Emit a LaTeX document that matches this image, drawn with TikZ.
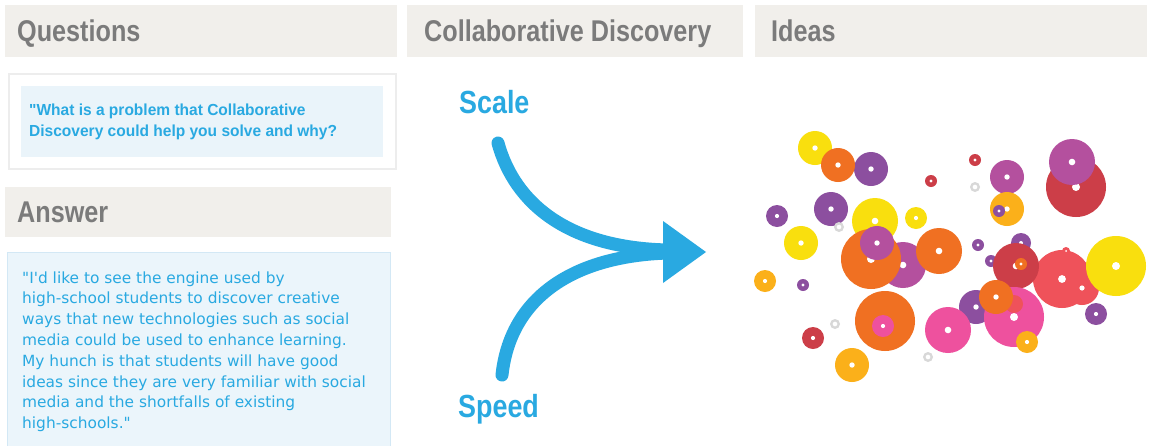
\documentclass[tikz,border=0pt]{standalone}
\usepackage{fontspec}
\setmainfont{Liberation Sans}
\newfontfamily\hdrfont[FakeStretch=0.84]{Liberation Sans}
\newfontfamily\qfont[FakeStretch=0.97]{Liberation Sans}
\newfontfamily\ansfont{DejaVu Sans}
\definecolor{hdrbg}{HTML}{F1EFEB}
\definecolor{hdrtxt}{HTML}{7B7B7B}
\definecolor{cdblue}{HTML}{29A9E1}
\definecolor{qbg}{HTML}{EAF4FA}
\definecolor{abg}{HTML}{EBF5FB}
\definecolor{aborder}{HTML}{D3E8F5}
\definecolor{cyel}{HTML}{F9DF0E}
\definecolor{cora}{HTML}{F07022}
\definecolor{cpur}{HTML}{8C4F9F}
\definecolor{cmag}{HTML}{B4509E}
\definecolor{cred}{HTML}{CC3E48}
\definecolor{ccor}{HTML}{EF525A}
\definecolor{cpink}{HTML}{EE519E}
\definecolor{coy}{HTML}{FBB01A}
\definecolor{cring}{HTML}{D8D8D8}
\newcommand\bub[4]{\fill[#4] (#1,#2) circle[radius=#3pt];\fill[white] (#1,#2) circle[radius={0.1*#3pt+1pt}];}
\newcommand\ringat[2]{\fill[cring,even odd rule] (#1,#2) circle[radius=5pt] (#1,#2) circle[radius=2.5pt];}
\tikzset{
  hdrbox/.style={fill=hdrbg,draw=none},
  hdrlabel/.style={anchor=base west,inner sep=0pt,text=hdrtxt,font=\hdrfont\bfseries\fontsize{30}{30}\selectfont},
  biglabel/.style={anchor=base west,inner sep=0pt,text=cdblue,font=\hdrfont\bfseries\fontsize{32}{32}\selectfont},
  flow/.style={draw=cdblue,line width=13pt,line cap=round}
}
\begin{document}
\begin{tikzpicture}[x=1pt,y=-1pt]
\useasboundingbox (0,0) rectangle (1150,445);
\fill[white] (0,0) rectangle (1150,445);
% headers
\fill[hdrbox] (5,5) rectangle (397,57);
\node[hdrlabel] (hq) at (17,41.5) {Questions};
\fill[hdrbox] (407,5) rectangle (743,57);
\node[hdrlabel] (hc) at (424,41.5) {Collaborative Discovery};
\fill[hdrbox] (755,5) rectangle (1147,57);
\node[hdrlabel] (hi) at (771,41.5) {Ideas};
\fill[hdrbox] (5,187) rectangle (391,237);
\node[hdrlabel] (ha) at (17,222) {Answer};
% question panel
\draw[fill=white,draw=black!7,line width=1.5pt] (9,74) rectangle (396,169);
\fill[qbg] (21,86) rectangle (383,157);
\node[anchor=base west,inner sep=0pt,text=cdblue,font=\qfont\bfseries\fontsize{16}{21}\selectfont,align=left] (qt) at (29,136)
 {"What is a problem that Collaborative\\Discovery could help you solve and why?};
% answer panel
\draw[fill=abg,draw=aborder,line width=1pt] (7,252) rectangle (390,450);
\node[anchor=base west,inner sep=0pt,text=cdblue,font=\ansfont\fontsize{15.4}{20.8}\selectfont,align=left] (at) at (22,428.6)
 {"I'd like to see the engine used by\\
high-school students to discover creative\\
ways that new technologies such as social\\
media could be used to enhance learning.\\
My hunch is that students will have good\\
ideas since they are very familiar with social\\
media and the shortfalls of existing\\
high-schools."};
% scale / speed
\node[biglabel] (scale) at (459,113) {Scale};
\node[biglabel] (speed) at (458,417) {Speed};
\coordinate (s1) at (498,143);
\coordinate (s2) at (502,375);
\coordinate (m1) at (668,250);
\coordinate (m2) at (668,253);
\coordinate (t1) at (663,221);
\coordinate (t2) at (663,283);
\coordinate (tip) at (706,252);
\draw[flow] (s1) .. controls (515,205) and (570,248) .. (m1);
\draw[flow] (s2) .. controls (510,300) and (570,256) .. (m2);
\fill[cdblue] (t1) -- (tip) -- (t2) -- cycle;
% bubbles
\bub{1076}{187}{30}{cred}
\bub{1072}{162}{23}{cmag}
\bub{815}{148}{17}{cyel}
\bub{871}{169}{17}{cpur}
\bub{838}{165}{17}{cora}
\bub{975}{160}{6}{cred}
\bub{931}{181}{6}{cred}
\ringat{975}{187}
\bub{1007}{177}{17}{cmag}
\bub{1007}{209}{17}{coy}
\bub{999}{211}{6}{cpur}
\bub{831}{209}{17}{cpur}
\bub{777}{216}{11}{cpur}
\ringat{839}{227}
\bub{875}{221}{23}{cyel}
\bub{916}{218}{11}{cyel}
\bub{801}{243}{17}{cyel}
\bub{903}{265}{23}{cmag}
\bub{871}{259}{30}{cora}
\bub{877}{243}{17}{cmag}
\bub{939}{251}{23}{cora}
\bub{978}{245}{6}{cpur}
\bub{1021}{243}{10}{cpur}
\bub{991}{261}{6}{cpur}
\fill[ccor] (1062,279) circle[radius=29pt] (1082,288) circle[radius=17pt] (1066,251) circle[radius=4pt];
\fill[white] (1062,279) circle[radius=3.9pt] (1082,288) circle[radius=2.6pt] (1066,251) circle[radius=1pt];
\bub{1016}{266}{23}{cred}
\bub{1021}{264}{6}{cora}
\bub{1116}{266}{30}{cyel}
\bub{765}{281}{11}{coy}
\bub{803}{285}{6}{cpur}
\bub{976}{307}{17}{cpur}
\bub{1014}{317}{30}{cpink}
\fill[ccor] (1014,304) circle[radius=9pt];
\bub{996}{297}{17}{cora}
\bub{1096}{314}{11}{cpur}
\bub{885}{321}{30}{cora}
\bub{883}{326}{11}{cpink}
\ringat{835}{324}
\bub{813}{338}{11}{cred}
\bub{948}{330}{23}{cpink}
\bub{1027}{342}{11}{coy}
\ringat{928}{357}
\bub{852}{365}{17}{coy}
\end{tikzpicture}
\end{document}
